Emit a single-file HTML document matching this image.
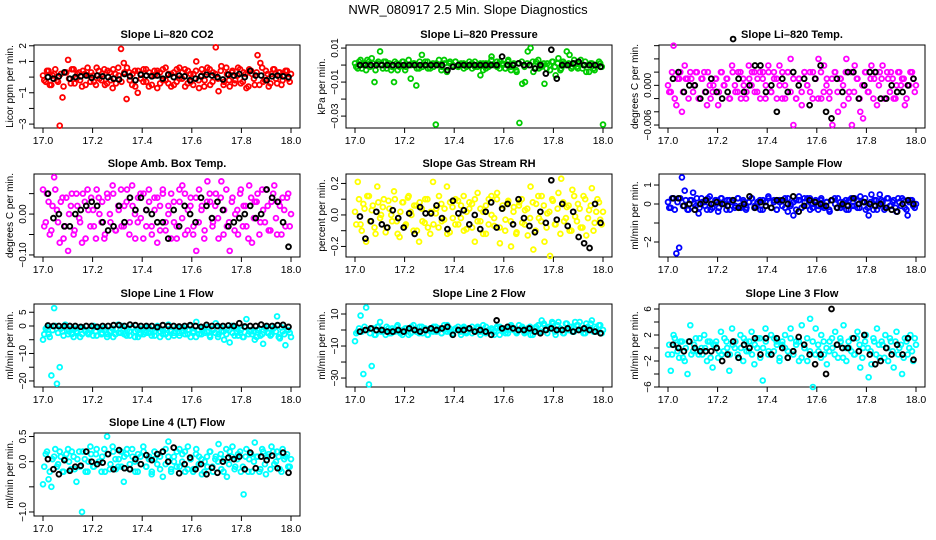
<!DOCTYPE html>
<html><head><meta charset="utf-8">
<style>
html,body{margin:0;padding:0;background:#fff;}
svg{display:block;font-family:"Liberation Sans",sans-serif;}
</style></head>
<body>
<svg id="chart" width="936" height="540" viewBox="0 0 936 540">
<text x="468" y="14" text-anchor="middle" font-size="13">NWR_080917  2.5 Min. Slope Diagnostics</text>
</svg>
<script>
const xTicks = [17.0, 17.2, 17.4, 17.6, 17.8, 18.0];
const xTickLabels = ["17.0", "17.2", "17.4", "17.6", "17.8", "18.0"];

const co2Vals = [0.1,-0.3,0.4,-0.5,0.2,-0.2,-3.1,-1.3,0.3,1.1,-0.4,0.5,-0.1,0.3,-0.6,0.2,0.6,-0.3,0.1,-0.5,0.4,-0.2,0.5,-0.4,0.3,-0.7,0.2,0.6,1.8,0.9,-1.4,0.3,-0.5,0.4,-1.0,0.2,-0.3,0.5,-0.6,0.1,0.4,-0.7,0.3,-0.2,0.6,-0.4,0.2,-0.5,0.5,-0.1,0.3,-0.6,0.4,-0.3,0.2,1.0,-0.7,0.5,-0.2,0.6,-0.5,0.3,1.9,-0.9,0.7,-0.3,0.2,-0.6,0.4,-0.2,0.6,-0.4,0.3,-0.7,0.5,0.2,-0.5,1.4,0.9,-0.3,0.4,-0.6,0.2,0.5,-0.4,0.3,-0.2,0.4,-0.1,0.2];
const co2Vals2 = [-0.2,0.4,-0.5,0.1,0.5,-0.3,0.2,-0.6,0.3,-0.1,0.5,-0.4,0.2,-0.2,0.4,-0.5,0.1,0.3,-0.3,0.6,-0.1,0.2,-0.5,0.4,-0.2,0.5,-0.4,0.1,-0.3,0.3,0.6,-0.2,0.2,-0.6,0.4,-0.1,0.5,-0.3,0.3,-0.5,0.1,0.4,-0.4,0.5,-0.2,0.2,-0.6,0.3,-0.3,0.6,-0.1,0.5,-0.4,0.2,-0.5,0.4,-0.2,0.1,-0.6,0.3,0.5,-0.3,0.2,-0.1,0.4,-0.5,0.6,-0.2,0.3,-0.4,0.1,0.5,-0.3,0.2,-0.6,0.4,-0.1,0.3,-0.5,0.6,-0.2,0.2,-0.4,0.5,-0.1,0.3,-0.5,0.1,0.4,-0.3];
const co2Ref = [0,-0.1,0.05,0.3,-0.1,0,0.05,0.1,-0.05,0.1,0.05,0,-0.1,-0.15,0.2,0.05,-0.2,0.15,0.1,0.05,0.1,-0.1,0.15,0,0.1,0.05,-0.2,-0.1,0.05,0.15,0.1,0,-0.15,0.15,0.1,0.2,0,0.4,0.1,0.1,-0.2,0.05,0.1,0.05,0];

const presVals = [0.001,-0.002,0.003,0.000,-0.003,0.002,0.004,-0.010,0.001,0.008,-0.002,0.002,0.000,-0.003,-0.010,0.001,-0.001,0.002,-0.003,0.000,-0.008,0.001,-0.012,-0.002,0.006,0.000,0.002,-0.002,0.001,-0.035,0.000,-0.003,0.003,-0.004,0.001,0.000,0.002,-0.001,0.000,0.001,-0.001,0.000,0.001,-0.001,0.000,-0.006,0.001,-0.002,0.001,0.005,0.000,-0.001,0.002,0.000,-0.002,0.003,-0.003,0.001,-0.004,-0.034,-0.011,-0.010,0.008,0.010,-0.004,0.002,-0.002,0.000,-0.011,0.001,-0.003,0.002,-0.006,0.004,-0.002,0.001,0.008,0.006,-0.001,0.001,-0.002,0.003,0.000,-0.004,-0.004,0.001,-0.003,0.000,0.001,-0.035];
const presVals2 = [-0.001,0.002,-0.002,0.001,0.003,-0.001,0.001,-0.003,0.002,0.000,0.002,-0.002,0.001,-0.001,0.002,-0.003,0.000,0.002,-0.001,0.003,0.000,0.001,-0.002,0.002,-0.001,0.002,-0.002,0.000,-0.001,0.001,0.003,-0.001,0.001,-0.003,0.002,0.000,0.002,-0.001,0.001,-0.002,0.000,0.002,-0.002,0.002,-0.001,0.001,-0.003,0.001,-0.001,0.003,0.000,0.002,-0.002,0.001,-0.002,0.002,-0.001,0.000,-0.003,0.001,0.002,-0.001,0.001,0.000,0.002,-0.002,0.003,-0.001,0.001,-0.002,0.000,0.002,-0.001,0.001,-0.003,0.002,0.000,0.001,-0.002,0.003,-0.001,0.001,-0.002,0.002,0.000,0.001,-0.002,0.000,0.002,-0.001];
const presRef = [0,0,0,0,0,0,0,0,0,0,0,0,0,0,0,0,-0.003,-0.001,0,0,0,0,0,0,0,0,0.005,0,0,0.001,0,0,-0.002,0,-0.005,0.009,-0.008,0,0,0.001,0.002,0,0,0,-0.001];

const tempVals = [0.000,-0.001,0.006,-0.003,0.001,-0.004,0.003,0.001,0.002,-0.001,0.002,-0.002,0.001,0.002,-0.003,0.000,-0.001,0.001,-0.003,0.002,0.000,0.001,-0.002,0.003,0.000,-0.001,0.002,0.001,-0.002,0.003,0.000,0.002,-0.001,0.002,0.001,-0.002,0.003,-0.001,0.002,0.001,0.003,-0.002,0.000,0.002,0.004,-0.006,-0.002,0.001,-0.003,0.002,0.000,-0.001,0.002,0.001,0.004,-0.002,0.003,0.001,-0.001,-0.006,0.002,-0.004,0.001,-0.003,0.004,-0.001,-0.006,0.003,0.001,-0.004,-0.005,0.002,-0.001,0.003,0.001,-0.003,0.002,0.003,-0.002,0.001,0.002,-0.002,0.000,0.002,0.001,-0.003,0.000,0.002,0.001,0.000];
const tempVals2 = [-0.001,0.002,-0.002,0.001,0.002,-0.001,0.001,-0.002,0.001,0.000,0.002,-0.002,0.001,-0.001,0.002,-0.002,0.000,0.001,-0.001,0.002,0.000,0.001,-0.002,0.002,-0.001,0.002,-0.002,0.000,-0.001,0.001,0.002,-0.001,0.001,-0.002,0.002,0.000,0.002,-0.001,0.001,-0.002,0.000,0.002,-0.002,0.002,-0.001,0.001,-0.002,0.001,-0.001,0.002,0.000,0.002,-0.002,0.001,-0.002,0.002,-0.001,0.000,-0.002,0.001,0.002,-0.001,0.001,0.000,0.002,-0.002,0.002,-0.001,0.001,-0.002,0.000,0.002,-0.001,0.001,-0.002,0.002,0.000,0.001,-0.002,0.002,-0.001,0.001,-0.002,0.002,0.000,0.001,-0.002,0.000,0.002,-0.001];
const tempRef = [0.001,0.002,-0.001,0,0,-0.002,-0.001,0.001,-0.001,-0.002,-0.001,0.007,0.001,-0.001,0,0.003,0.003,-0.001,0,-0.004,0.001,-0.001,0.002,0,0.001,-0.003,0.001,0.003,-0.004,-0.005,0.001,-0.001,0.002,0.002,-0.002,0,0.002,0.002,-0.002,-0.002,0,-0.001,-0.001,0,0.001];

const ambVals = [0.06,-0.02,0.03,-0.04,0.09,0.01,-0.07,0.04,-0.03,-0.09,0.02,-0.05,0.05,-0.01,-0.07,0.03,0.06,-0.03,0.01,-0.06,0.04,-0.02,-0.06,0.05,0.00,0.07,-0.04,0.02,0.06,-0.03,0.03,-0.05,0.07,0.00,-0.02,0.05,-0.06,0.01,0.06,-0.03,0.04,-0.07,0.02,0.06,-0.04,0.00,0.05,-0.02,-0.06,0.03,0.07,-0.05,0.01,0.04,-0.03,-0.09,0.06,0.02,-0.04,0.08,0.03,-0.02,0.05,-0.06,0.08,0.01,-0.03,-0.09,0.04,0.00,-0.05,0.06,0.02,-0.03,0.07,-0.07,0.03,0.05,-0.02,0.01,0.06,-0.04,0.03,0.07,-0.05,0.02,0.04,-0.03,0.05,0.00];
const ambVals2 = [-0.03,0.05,-0.05,0.02,0.06,-0.02,0.03,-0.06,0.04,0.00,0.05,-0.04,0.02,-0.02,0.05,-0.06,0.01,0.04,-0.03,0.06,0.00,0.03,-0.05,0.04,-0.02,0.05,-0.04,0.01,-0.03,0.02,0.06,-0.02,0.02,-0.06,0.04,-0.01,0.05,-0.03,0.03,-0.05,0.01,0.04,-0.04,0.05,-0.02,0.02,-0.06,0.03,-0.03,0.06,-0.01,0.05,-0.04,0.02,-0.05,0.04,-0.02,0.01,-0.06,0.03,0.05,-0.03,0.02,-0.01,0.04,-0.05,0.06,-0.02,0.03,-0.04,0.01,0.05,-0.03,0.02,-0.06,0.04,-0.01,0.03,-0.05,0.06,-0.02,0.02,-0.04,0.05,-0.01,0.03,-0.05,0.01,0.04,-0.03];
const ambRef = [0.05,-0.01,0.00,-0.03,-0.03,0.00,0.01,0.02,0.03,0.02,-0.02,-0.04,-0.03,0.02,-0.02,0.04,0.01,0.04,0.01,0.00,-0.02,-0.02,-0.06,0.01,-0.03,0.02,0.00,-0.02,0.04,0.02,-0.01,0.03,0.01,-0.03,-0.02,-0.01,0.00,0.02,-0.01,0.00,0.06,0.04,0.03,-0.02,-0.08];

const rhVals = [0.02,0.21,-0.06,0.07,-0.17,0.12,0.03,-0.08,0.18,-0.02,0.05,-0.11,0.09,0.00,0.15,-0.04,-0.14,0.08,-0.07,0.11,0.02,-0.10,0.06,-0.17,0.04,-0.05,0.10,-0.12,0.21,0.01,-0.08,0.07,-0.03,0.18,-0.11,0.05,-0.06,0.09,-0.02,0.12,-0.09,0.04,0.07,-0.17,0.14,-0.04,0.02,-0.12,0.10,0.00,-0.07,0.14,-0.18,0.06,-0.03,0.09,-0.20,0.05,-0.11,0.08,-0.05,0.03,-0.13,0.18,-0.22,0.07,-0.02,0.12,-0.17,0.01,-0.26,0.09,-0.06,0.14,0.23,-0.04,0.05,-0.10,0.16,-0.01,0.07,-0.08,0.12,-0.13,0.03,0.17,-0.05,0.10,-0.03,0.02];
const rhVals2 = [-0.06,0.10,-0.10,0.04,0.12,-0.04,0.06,-0.12,0.08,0.00,0.10,-0.08,0.04,-0.04,0.10,-0.12,0.02,0.08,-0.06,0.12,0.00,0.06,-0.10,0.08,-0.04,0.10,-0.08,0.02,-0.06,0.04,0.12,-0.04,0.04,-0.12,0.08,-0.02,0.10,-0.06,0.06,-0.10,0.02,0.08,-0.08,0.10,-0.04,0.04,-0.12,0.06,-0.06,0.12,-0.02,0.10,-0.08,0.04,-0.10,0.08,-0.04,0.02,-0.12,0.06,0.10,-0.06,0.04,-0.02,0.08,-0.10,0.12,-0.04,0.06,-0.08,0.02,0.10,-0.06,0.04,-0.12,0.08,-0.02,0.06,-0.10,0.12,-0.04,0.04,-0.08,0.10,-0.02,0.06,-0.10,0.02,0.08,-0.06];
const rhRef = [-0.01,-0.15,-0.04,0.02,-0.06,-0.08,0.03,-0.02,-0.08,0.01,-0.12,0.05,0.01,0.01,0.06,-0.02,-0.09,0.09,0.01,0.03,-0.06,0.00,-0.09,0.02,0.08,-0.08,0.04,0.07,-0.06,0.10,-0.02,-0.07,-0.11,0.02,-0.05,0.22,-0.03,0.07,-0.07,0.02,-0.14,-0.18,-0.21,0.07,-0.05];

const sampleVals = [0.1,-0.2,0.3,-2.6,-2.3,1.4,0.7,-0.3,0.2,0.6,-0.1,-0.5,0.3,0.1,-0.3,0.4,-0.2,0.2,-0.4,0.3,0.0,-0.3,0.2,0.1,-0.2,0.3,-0.1,0.2,-0.3,0.1,0.3,-0.2,0.0,0.2,-0.3,0.1,0.4,-0.2,0.1,-0.3,0.2,-0.1,0.3,-0.4,0.0,-0.6,0.2,0.4,-0.2,0.1,0.3,-0.3,0.0,0.2,-0.1,0.3,-0.2,0.1,-0.4,0.2,0.0,0.3,-0.2,0.1,-0.3,0.2,-0.1,0.3,-0.2,0.4,0.1,-0.3,-0.6,0.5,0.2,-0.3,0.5,0.1,-0.2,0.3,-0.1,0.2,-0.4,0.1,0.3,-0.2,-0.6,0.2,-0.1,0.0];
const sampleVals2 = [-0.2,0.3,-0.3,0.1,0.3,-0.1,0.2,-0.3,0.2,0.0,0.3,-0.2,0.1,-0.1,0.3,-0.3,0.0,0.2,-0.2,0.3,0.0,0.2,-0.3,0.2,-0.1,0.3,-0.2,0.1,-0.2,0.1,0.3,-0.1,0.1,-0.3,0.2,-0.1,0.3,-0.2,0.2,-0.3,0.1,0.2,-0.2,0.3,-0.1,0.1,-0.3,0.2,-0.2,0.3,-0.1,0.3,-0.2,0.1,-0.3,0.2,-0.1,0.1,-0.3,0.2,0.3,-0.2,0.1,-0.1,0.2,-0.3,0.3,-0.1,0.2,-0.2,0.1,0.3,-0.2,0.1,-0.3,0.2,-0.1,0.2,-0.3,0.3,-0.1,0.1,-0.2,0.3,-0.1,0.2,-0.3,0.1,0.2,-0.2];
const sampleRef = [0.3,0.3,-0.1,0.0,-0.3,0.0,0.2,0.0,0.1,0.0,-0.1,0.2,-0.2,0.0,0.4,-0.2,0.1,-0.1,-0.2,0.2,0.2,0.0,0.4,-0.4,-0.1,0.2,0.1,0.0,-0.1,0.2,-0.2,0.0,-0.1,0.3,0.0,0.1,0.0,-0.1,0.0,-0.2,-0.3,-0.4,0.0,0.2,0.0];

const line1Vals = [-5,-1,-3,-18,6.5,-21,-15,-2,0.5,-3,-1,-4,-2,-0.5,-3,-1.5,-2.5,-1,-3.5,-2,-0.5,-3,-1.5,-4,-2,-1,-3,0.5,-2.5,-1,-3.5,-2,-0.5,-4,-1.5,-3,-1,-2.5,-0.5,-3.5,-2,-1,-4,-1.5,-3,0.5,-2,-3.5,-1,-2.5,-0.5,-3,-1.5,-4,-2,1.5,-3,-1,-2.5,-0.5,-4,-1.5,1,-3,-2,-5,-1,-6,-2.5,-0.5,-3.5,-1.5,-4,2.5,-2,-3,-5,-1.5,-3.5,-6.5,-1,-2.5,-3,-0.5,3.5,-4.5,-2,-7,-1.5,-4];
const line1Vals2 = [-3,-0.5,-4,-1.5,0,-2.5,-1,-3.5,-0.5,-2,-3,-1,-2.5,-4,-0.5,-2,-3,-1.5,0,-3.5,-1,-2.5,-0.5,-3,-2,-4,-1,-2.5,0,-3,-1.5,-3.5,-0.5,-2,-4,-1,-3,-0.5,-2.5,-1.5,-3.5,0,-2,-3,-1,-4,-1.5,-2.5,-0.5,-3.5,-2,-1,-3,0,-2.5,-4,-1.5,-3,-0.5,-2,-3.5,-1,-2.5,-4,-0.5,-2,-3,-1.5,0,-3.5,-1,-2.5,-4,-0.5,-3,-1.5,-2,-4,-1,-3,-0.5,-2.5,-3.5,-1,-2,-4,-0.5,-3,-1.5,-2.5];
const line1Ref = [0.2,0,0,0,0,0,-0.3,0,0,-0.3,0,0,0.3,0.3,0,0.5,0.3,0,0,0,-0.4,0.3,0,0,-0.2,0,0.3,0,-0.3,0.4,0,0,0,0.2,0,1,-0.2,0,0,0.5,0,0,0.3,0.4,-0.3];

const line2Vals = [-7,-1,9,-27.5,14,-34,-22.5,-3,2,5,-1,-3,1,-2,0,2,-1,-3,1,0,-2,3,-1,-2,2,0,-3,1,-1,2,0,-2,3,-1,1,-3,0,2,-1,1,-2,0,2,-1,1,-3,0,2,-1,0,-3,1,2,-1,-2,0,3,1,-2,0,2,-1,1,-3,0,2,-1,6,3,-2,1,4,-3,5,0,-2,4,2,-1,5,3,0,-2,4,1,6,2,-1,3,0];
const line2Vals2 = [-2,1,-1,2,0,-2,1,-3,2,-1,0,2,-2,1,-1,3,-2,0,1,-3,2,0,-1,2,-2,1,-3,0,2,-1,1,-2,0,3,-1,-2,1,0,-3,2,-1,1,-2,0,2,-1,3,-2,0,1,-1,2,-3,0,1,-2,2,0,-1,3,1,-2,0,2,-3,1,3,-1,4,0,2,5,-1,3,1,-2,4,0,2,-1,3,5,0,-2,2,4,-1,1,3,-2];
const line2Ref = [-1,0,1,0,0,-1,-1,0,-1,1,0,-1,0,1,0,1,2,-3,0,0,1,-1,0,-1,-3,6,1,2,1,0,0,1,-1,-2,0,1,0,0,1,-1,0,1,0,-1,-2];

const line3Vals = [-1,-3.5,2,0.5,-1.5,1,-2,-4,3.5,-0.5,1.5,-1,0,2,-2,1,-3,0.5,-1.5,2.5,-0.5,1,-3.5,3,0,-1,2,-2,1,-0.5,2.5,-2.5,0,1.5,-5,3,-1,2,-0.5,1,-2,0.5,2,-1.5,3,-0.5,1,-2,3.5,0,-2,4.5,-6,3,-0.5,2,-1,-2.5,1,0,2.5,-1.5,1,3.5,-2,0,1.5,-1,2.5,-3,0,2,-4.5,-2.5,1,3,-1.5,0.5,2,-2,1,-3,2.5,0,-4,1.5,-1,2,-2,0.5];
const line3Vals2 = [0.5,-1,1.5,-0.5,1,-1.5,0,1,-1,0.5,-0.5,1.5,-1,0,1,-1.5,0.5,1,-0.5,-1,1.5,0,-1,0.5,1,-1.5,0,1.5,-0.5,1,-1,0.5,1.5,-1.5,0,1,-0.5,-1,1.5,0.5,-1.5,1,0,-0.5,1.5,-1,0.5,1,-1.5,0,1.5,-0.5,1,-1,0.5,-1.5,1,0,-0.5,1.5,-1,0.5,1.5,-1.5,0,1,-0.5,-1,1.5,0.5,-1.5,1,0,-0.5,1.5,-1,0.5,1,-1.5,0,1.5,-0.5,1,-1,0.5,-1.5,1,0,-0.5,1.5];
const line3Ref = [0.5,0,-0.5,1,0,-0.5,-0.5,-0.5,0,-2,-1,1,-1.5,0.5,0,1.5,-1,1.5,-1,1.5,0,-1.5,-0.5,1.7,0.5,-1,-2.5,-1,-4,6,0.5,0,0,1.5,-0.5,2,-1,-2.5,-2,0,-1,0.5,-1,1.5,-1.8];

const line4Vals = [-0.45,0.15,-0.35,-0.5,0.1,-0.1,0.2,-0.2,0.05,0.25,-0.15,0.1,-0.4,0.2,-1.0,0.05,-0.2,0.3,-0.1,0.15,0.0,-0.2,0.25,0.5,-0.15,0.3,0.05,-0.1,0.2,-0.4,0.15,-0.15,0.25,0.0,-0.2,0.1,0.3,-0.1,0.05,-0.25,0.2,-0.05,0.1,-0.3,0.25,0.4,-0.15,0.0,0.2,-0.1,0.15,-0.2,0.3,0.05,-0.15,0.25,0.1,-0.25,0.0,-0.1,0.2,-0.2,0.1,0.35,-0.15,0.05,-0.3,0.2,0.3,-0.1,0.15,-0.2,-0.65,0.25,0.05,-0.2,0.38,0.1,-0.15,0.2,-0.25,0.15,0.3,-0.05,0.2,-0.15,0.25,0.1,-0.1,0.05];
const line4Vals2 = [-0.1,0.2,-0.2,0.05,0.25,-0.05,0.1,-0.2,0.15,0.0,0.2,-0.15,0.05,-0.1,0.2,-0.2,0.0,0.15,-0.1,0.25,0.0,0.1,-0.2,0.15,-0.05,0.2,-0.15,0.05,-0.1,0.1,0.25,-0.05,0.1,-0.2,0.15,-0.05,0.2,-0.1,0.1,-0.2,0.05,0.15,-0.15,0.2,-0.05,0.1,-0.2,0.1,-0.1,0.25,0.0,0.2,-0.15,0.05,-0.2,0.15,-0.05,0.05,-0.2,0.1,0.2,-0.1,0.05,0.0,0.15,-0.2,0.25,-0.05,0.1,-0.15,0.05,0.2,-0.1,0.1,-0.2,0.15,0.0,0.1,-0.2,0.25,-0.05,0.1,-0.15,0.2,0.0,0.1,-0.2,0.05,0.15,-0.1];
const line4Ref = [0.05,-0.15,-0.25,0.03,-0.18,-0.1,-0.08,0.2,0.0,-0.05,-0.02,0.15,-0.15,0.23,-0.13,-0.15,0.05,-0.05,0.13,0.03,0.15,0.2,0.0,0.28,-0.23,-0.05,0.08,-0.15,-0.05,-0.25,-0.12,-0.22,0.0,0.08,0.05,0.1,-0.15,0.18,-0.13,0.1,0.03,0.12,-0.13,0.18,-0.22];

const panels = [
 {key:"co2", title:"Slope Li\u2013820 CO2", ylab:"Licor ppm per min.", color:"#ff0000", col:0,row:0, dom:[-3.25,2.05], ticks:[-3,-2,-1,0,1,2], labels:{"-3":"\u22123","-1":"\u22121","1":"1","2":"2"}, vals:co2Vals, vals2:co2Vals2, ref:co2Ref},
 {key:"pressure", title:"Slope Li\u2013820 Pressure", ylab:"kPa per min.", color:"#00cc00", col:1,row:0, dom:[-0.037,0.0118], ticks:[-0.03,-0.02,-0.01,0,0.01], labels:{"-0.03":"\u22120.03","-0.01":"\u22120.01","0.01":"0.01"}, vals:presVals, vals2:presVals2, ref:presRef},
 {key:"temp", title:"Slope Li\u2013820 Temp.", ylab:"degrees C per min.", color:"#ff00ff", col:2,row:0, dom:[-0.00645,0.0061], ticks:[-0.006,-0.004,-0.002,0,0.002,0.004,0.006], labels:{"-0.006":"\u22120.006","0":"0.000"}, vals:tempVals, vals2:tempVals2, ref:tempRef},
 {key:"amb", title:"Slope Amb. Box Temp.", ylab:"degrees C per min.", color:"#ff00ff", col:0,row:1, dom:[-0.105,0.098], ticks:[-0.1,-0.05,0,0.05], labels:{"-0.1":"\u22120.10","0":"0.00"}, vals:ambVals, vals2:ambVals2, ref:ambRef},
 {key:"rh", title:"Slope Gas Stream RH", ylab:"percent per min.", color:"#ffff00", col:1,row:1, dom:[-0.267,0.26], ticks:[-0.2,-0.1,0,0.1,0.2], labels:{"-0.2":"\u22120.2","0":"0.0","0.2":"0.2"}, vals:rhVals, vals2:rhVals2, ref:rhRef},
 {key:"sample", title:"Slope Sample Flow", ylab:"ml/min per min.", color:"#0000ff", col:2,row:1, dom:[-2.79,1.58], ticks:[-2,-1,0,1], labels:{"-2":"\u22122","0":"0","1":"1"}, vals:sampleVals, vals2:sampleVals2, ref:sampleRef},
 {key:"line1", title:"Slope Line 1 Flow", ylab:"ml/min per min.", color:"#00ffff", col:0,row:2, dom:[-22.2,8], ticks:[-20,-15,-10,-5,0,5], labels:{"-20":"\u221220","-10":"\u221210","0":"0","5":"5"}, vals:line1Vals, vals2:line1Vals2, ref:line1Ref},
 {key:"line2", title:"Slope Line 2 Flow", ylab:"ml/min per min.", color:"#00ffff", col:1,row:2, dom:[-35.6,16.25], ticks:[-30,-20,-10,0,10], labels:{"-30":"\u221230","-10":"\u221210","10":"10"}, vals:line2Vals, vals2:line2Vals2, ref:line2Ref},
 {key:"line3", title:"Slope Line 3 Flow", ylab:"ml/min per min.", color:"#00ffff", col:2,row:2, dom:[-6,6.77], ticks:[-6,-4,-2,0,2,4,6], labels:{"-6":"\u22126","-2":"\u22122","2":"2","6":"6"}, vals:line3Vals, vals2:line3Vals2, ref:line3Ref},
 {key:"line4", title:"Slope Line 4 (LT) Flow", ylab:"ml/min per min.", color:"#00ffff", col:0,row:3, dom:[-1.08,0.57], ticks:[-1,-0.5,0,0.5], labels:{"-1":"\u22121.0","0":"0.0","0.5":"0.5"}, vals:line4Vals, vals2:line4Vals2, ref:line4Ref}
];

const NS = "http://www.w3.org/2000/svg";
const svg = document.getElementById("chart");
const colOff = [0, 312, 625];
const rowTop = [45, 174, 304, 433];
const boxH = 83, boxW = 266;

function mk(tag, attrs, parent) {
  const e = document.createElementNS(NS, tag);
  for (const k in attrs) e.setAttribute(k, attrs[k]);
  parent.appendChild(e);
  return e;
}

panels.forEach(p => {
  const off = colOff[p.col];
  const top = rowTop[p.row];
  const bottom = top + boxH;
  const left = 34 + off;
  const xScale = v => 43 + off + (v - 17) * 248;
  const yScale = v => bottom - (v - p.dom[0]) / (p.dom[1] - p.dom[0]) * boxH;

  const g = mk("g", {}, svg);
  
  

  const t = mk("text", {x: left + boxW / 2, y: top - 7, "text-anchor": "middle", "font-size": "11", "font-weight": "bold"}, g);
  t.textContent = p.title;
  
  

  const box = mk("rect", {x: left, y: top, width: boxW, height: boxH, fill: "none", stroke: "#000", "stroke-width": "1"}, g);
  
  

  const xa = mk("g", {}, g);
  
  
  mk("line", {x1: xScale(xTicks[0]), x2: xScale(xTicks[xTicks.length - 1]), y1: bottom, y2: bottom, stroke: "#000"}, xa);
  xTicks.forEach((v, i) => {
    const x = xScale(v);
    mk("line", {x1: x, x2: x, y1: bottom, y2: bottom + 5, stroke: "#000"}, xa);
    const lt = mk("text", {x: x, y: bottom + 16, "text-anchor": "middle", "font-size": "10.5"}, xa);
    lt.textContent = xTickLabels[i];
    
    
  });

  const ya = mk("g", {}, g);
  
  
  mk("line", {x1: left, x2: left, y1: yScale(p.ticks[0]), y2: yScale(p.ticks[p.ticks.length - 1]), stroke: "#000"}, ya);
  p.ticks.forEach(v => {
    const y = yScale(v);
    mk("line", {x1: left - 5, x2: left, y1: y, y2: y, stroke: "#000"}, ya);
    const lab = p.labels[String(v)];
    if (lab !== undefined) {
      const lt = mk("text", {x: left - 8, y: y, "text-anchor": "middle", "font-size": "10", transform: "rotate(-90 " + (left - 8) + " " + y + ")"}, ya);
      lt.textContent = lab;
      
      
    }
  });
  const yl = mk("text", {x: 0, y: 0, "text-anchor": "middle", "font-size": "10", transform: "translate(" + (off + 13) + "," + (top + boxH / 2) + ") rotate(-90)"}, ya);
  yl.textContent = p.ylab;
  
  

  const sg = mk("g", {fill: "none", stroke: p.color, "stroke-width": "1.8"}, g);
  
  
  const n = p.vals.length;
  p.vals.forEach((v, i) => {
    const xv = 17 + i / (n - 1);
    const c = mk("circle", {cx: xScale(xv), cy: yScale(v), r: 2.4}, sg);
    
    
  });
  const n2 = p.vals2.length;
  p.vals2.forEach((v, i) => {
    const xv = 17.005 + i * 0.99 / (n2 - 1);
    const c = mk("circle", {cx: xScale(xv), cy: yScale(v), r: 2.4}, sg);
    
    
  });

  const rg = mk("g", {fill: "none", stroke: "#000", "stroke-width": "1.9"}, g);
  
  
  const m = p.ref.length;
  p.ref.forEach((v, i) => {
    const xv = 17.02 + i * 0.97 / (m - 1);
    const c = mk("circle", {cx: xScale(xv), cy: yScale(v), r: 2.4}, rg);
    
    
  });
});
</script>
</body></html>
